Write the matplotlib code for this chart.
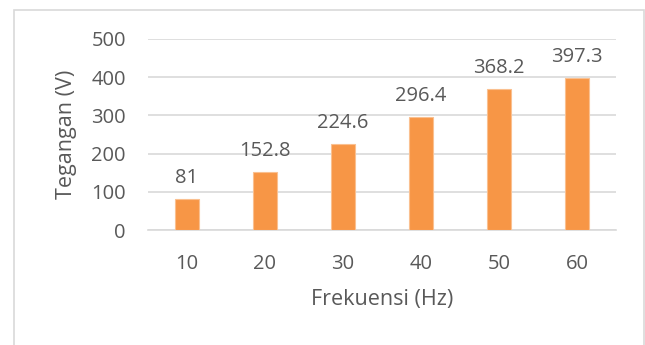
import matplotlib.pyplot as plt
from matplotlib.patches import Rectangle

# frekuensi vs tegangan
freq = ["10", "20", "30", "40", "50", "60"]
tegangan = [81, 152.8, 224.6, 296.4, 368.2, 397.3]
label_txt = ["81", "152.8", "224.6", "296.4", "368.2", "397.3"]

W, H = 645, 345
plt.rcParams['font.family'] = ['Open Sans', 'DejaVu Sans']
txt_col = "#595959"
grid_col = "#D9D9D9"

fig = plt.figure(figsize=(W / 100, H / 100), dpi=100)
fig.patch.set_facecolor("white")

# chart area border
fig.add_artist(Rectangle((14 / W, -0.1), (644 - 14) / W, 1.1 - 10 / H,
                         transform=fig.transFigure, fill=False,
                         edgecolor=grid_col, linewidth=1.2))

ax = fig.add_axes([148 / W, 1 - 230 / H, (616 - 148) / W, (230 - 39) / H])
x = range(len(freq))
bars = ax.bar(x, tegangan, width=0.32, color="#F79646",
              edgecolor="#FAC090", linewidth=0.8, zorder=3)

for b, t in zip(bars, label_txt):
    ax.annotate(t, (b.get_x() + b.get_width() / 2, b.get_height()),
                xytext=(0, 8), textcoords="offset points",
                ha="center", va="bottom", fontsize=14.5, color=txt_col)

ax.set_xlim(-0.5, len(freq) - 0.5)
ax.set_ylim(0, 500)
ax.set_yticks(range(0, 501, 100))
ax.set_xticks(list(x))
ax.set_xticklabels(freq)
ax.yaxis.grid(True, color=grid_col, linewidth=1.2, zorder=0)
ax.set_axisbelow(True)

for s in ["top", "right", "left"]:
    ax.spines[s].set_visible(False)
ax.spines["bottom"].set_color(grid_col)
ax.spines["bottom"].set_linewidth(1.2)
ax.tick_params(length=0, labelsize=14.5, colors=txt_col)
ax.tick_params(axis="x", pad=17)
ax.tick_params(axis="y", pad=16)

ax.set_xlabel("Frekuensi (Hz)", fontsize=15.5, color=txt_col, labelpad=11)
ax.set_ylabel("Tegangan (V)", fontsize=15.5, color=txt_col, labelpad=10)

fig.savefig("out.png", dpi=100)
